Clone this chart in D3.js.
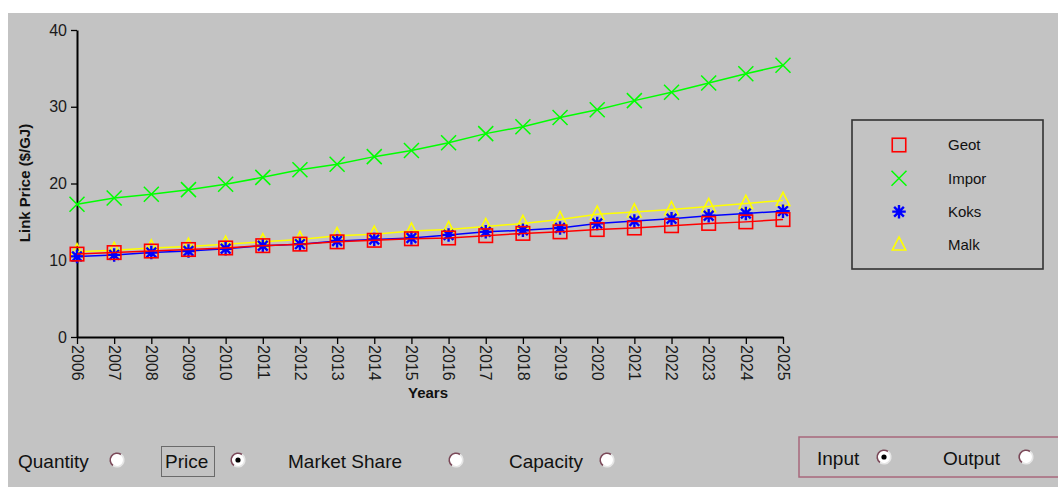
<!DOCTYPE html>
<html><head><meta charset="utf-8">
<script src="https://cdn.jsdelivr.net/npm/d3@7"></script>
<style>
html,body{margin:0;padding:0;background:#fff;}
svg{display:block;font-family:"Liberation Sans",Arial,sans-serif;}
</style></head>
<body>
<svg id="c" width="1058" height="487"></svg>
<script>
const years = ["2006","2007","2008","2009","2010","2011","2012","2013","2014","2015","2016","2017","2018","2019","2020","2021","2022","2023","2024","2025"];
const geot  = [10.8,11.0,11.2,11.4,11.6,11.9,12.1,12.4,12.6,12.8,12.9,13.2,13.5,13.7,14.0,14.2,14.5,14.8,15.0,15.3];
const impor = [17.3,18.1,18.6,19.2,19.9,20.8,21.8,22.5,23.5,24.3,25.3,26.5,27.4,28.6,29.6,30.8,31.9,33.1,34.3,35.4];
const koks  = [10.5,10.7,11.0,11.2,11.5,11.9,12.1,12.5,12.7,12.9,13.3,13.7,13.9,14.2,14.8,15.1,15.4,15.8,16.1,16.4];
const malk  = [11.1,11.3,11.6,11.8,12.1,12.4,12.7,13.2,13.4,13.8,14.0,14.4,14.8,15.3,16.0,16.3,16.6,17.0,17.4,17.8];
const yTicks = [0,10,20,30,40];
const seriesNames = ["Geot","Impor","Koks","Malk"];
const seriesColors = ["#ff0000","#00ff00","#0000ff","#ffff00"];
const seriesShapes = ["square","cross","star","triangle"];
const seriesValues = [geot, impor, koks, malk];
const viewOptions = ["Quantity","Price","Market Share","Capacity"];
const ioOptions = ["Input","Output"];

const svg = d3.select("#c");
svg.append("rect").attr("x",8).attr("y",13).attr("width",1050).attr("height",474).attr("fill","#c3c3c3");

const x = d3.scalePoint().domain(years).range([77,783]);
const y = d3.scaleLinear().domain([0,40]).range([337,30]);

// axes
const gy = svg.append("g").attr("transform","translate(77,0)")
  .call(d3.axisLeft(y).tickValues(yTicks).tickSize(6).tickSizeOuter(0).tickPadding(4));
const gx = svg.append("g").attr("transform","translate(0,337)")
  .call(d3.axisBottom(x).tickSize(7).tickSizeOuter(0));
[gx,gy].forEach(g=>{
  g.select(".domain").attr("stroke","#000").attr("stroke-width",2);
  g.selectAll(".tick line").attr("stroke","#000").attr("stroke-width",1.3);
  g.selectAll("text").attr("fill","#1a1a1a").style("font-size","16px").style("font-family","'Liberation Sans',Arial,sans-serif");
});
gx.selectAll(".tick text").attr("transform","rotate(90)").attr("text-anchor","start")
  .attr("x",8).attr("y",0).attr("dy","0.36em");

svg.append("text").attr("x",428).attr("y",398).attr("text-anchor","middle")
  .style("font-size","15px").style("font-weight","bold").attr("fill","#111").text("Years");
svg.append("text").attr("transform","translate(30,183) rotate(-90)").attr("text-anchor","middle")
  .style("font-size","15px").style("font-weight","bold").attr("fill","#111").text("Link Price ($/GJ)");

function marker(g, shape, color, cx, cy, s){
  if(shape==="square"){
    g.append("rect").attr("x",cx-s*0.45).attr("y",cy-s*0.45).attr("width",s*0.9).attr("height",s*0.9)
      .attr("fill","none").attr("stroke",color).attr("stroke-width",1.6);
  } else if(shape==="cross"){
    const h=s*0.5;
    g.append("path").attr("d",`M${cx-h},${cy-h}L${cx+h},${cy+h}M${cx-h},${cy+h}L${cx+h},${cy-h}`)
      .attr("stroke",color).attr("stroke-width",1.5).attr("fill","none");
  } else if(shape==="star"){
    const h=s*0.45, d=h*0.72;
    g.append("path").attr("d",`M${cx},${cy-h}L${cx},${cy+h}M${cx-h},${cy}L${cx+h},${cy}M${cx-d},${cy-d}L${cx+d},${cy+d}M${cx-d},${cy+d}L${cx+d},${cy-d}`)
      .attr("stroke",color).attr("stroke-width",2.4).attr("fill","none");
    g.append("circle").attr("cx",cx).attr("cy",cy).attr("r",2.5).attr("fill",color);
  } else {
    const h=s*0.45;
    g.append("path").attr("d",`M${cx},${cy-h*1.2}L${cx+h},${cy+h*0.75}L${cx-h},${cy+h*0.75}Z`)
      .attr("stroke",color).attr("stroke-width",1.6).attr("fill","none");
  }
}

const line = d3.line().x((d,i)=>x(years[i])).y(d=>y(d));
[3,2,0,1].forEach(k=>{
  const g = svg.append("g");
  g.append("path").attr("d",line(seriesValues[k])).attr("fill","none")
    .attr("stroke",seriesColors[k]).attr("stroke-width",1.5);
  seriesValues[k].forEach((v,i)=>marker(g, seriesShapes[k], seriesColors[k], x(years[i]), y(v), 15));
});

// legend
const lg = svg.append("g");
lg.append("rect").attr("x",852).attr("y",120).attr("width",191).attr("height",149)
  .attr("fill","none").attr("stroke","#333").attr("stroke-width",1.6);
const legY = d3.scalePoint().domain(seriesNames).range([145,245]);
seriesNames.forEach((n,k)=>{
  marker(lg, seriesShapes[k], seriesColors[k], 899, legY(n), 15);
  lg.append("text").attr("x",948).attr("y",legY(n)).attr("dy","0.36em")
    .style("font-size","15px").attr("fill","#111").text(n);
});

// radio buttons
function radio(cx, cy, on){
  const g = svg.append("g");
  g.append("circle").attr("cx",cx).attr("cy",cy).attr("r",7).attr("fill","#fff");
  const arc = d3.arc().innerRadius(6).outerRadius(7.6);
  g.append("path").attr("transform",`translate(${cx},${cy})`)
    .attr("d",arc({startAngle:-Math.PI*0.8,endAngle:Math.PI*0.2})).attr("fill","#7a4858");
  g.append("path").attr("transform",`translate(${cx},${cy})`)
    .attr("d",arc({startAngle:Math.PI*0.2,endAngle:Math.PI*1.2})).attr("fill","#e6e6e6");
  if(on) g.append("circle").attr("cx",cx).attr("cy",cy).attr("r",2.6).attr("fill","#000");
}
const optTextX = [18,165,288,509];
const optRadioX = [117,238,456,607];
viewOptions.forEach((t,i)=>{
  svg.append("text").attr("x",optTextX[i]).attr("y",461).attr("dy","0.36em")
    .style("font-size","19px").attr("fill","#111").text(t);
  radio(optRadioX[i],460,t==="Price");
});
svg.append("rect").attr("x",161.5).attr("y",446.5).attr("width",53).attr("height",30)
  .attr("fill","none").attr("stroke","#111").attr("stroke-width",1).attr("stroke-dasharray","1,1");

svg.append("rect").attr("x",799).attr("y",437).attr("width",262).attr("height",40)
  .attr("fill","none").attr("stroke","#a8687c").attr("stroke-width",1.5);
const ioTextX = [817,943];
const ioRadioX = [884,1026];
ioOptions.forEach((t,i)=>{
  svg.append("text").attr("x",ioTextX[i]).attr("y",458).attr("dy","0.36em")
    .style("font-size","19px").attr("fill","#111").text(t);
  radio(ioRadioX[i],457,t==="Input");
});
</script>
</body></html>
